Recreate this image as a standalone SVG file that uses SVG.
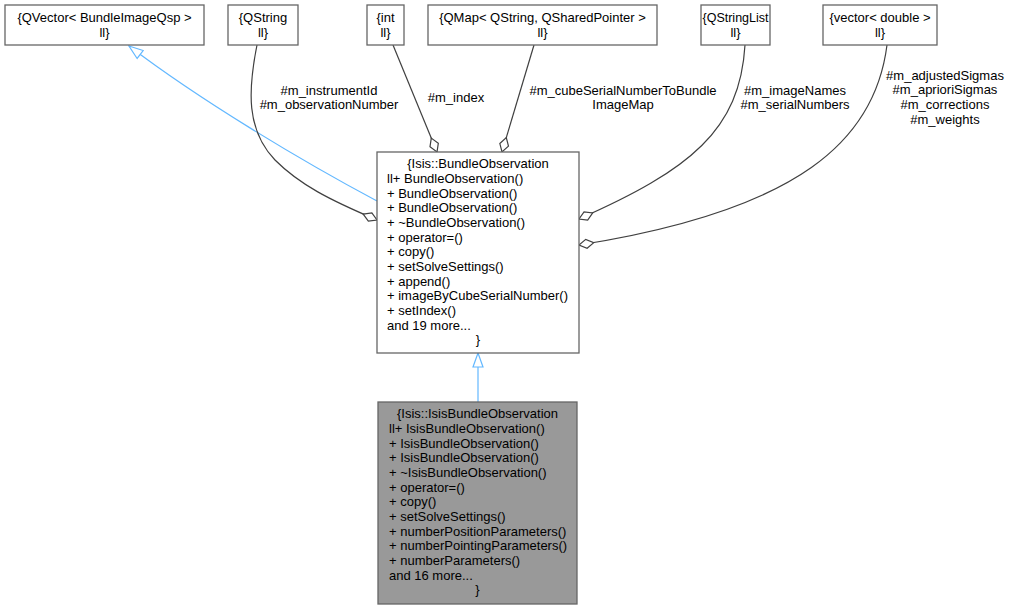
<svg xmlns="http://www.w3.org/2000/svg" width="1010" height="609" viewBox="0 0 1010 609">
<style>
text{font-family:"Liberation Sans",Arial,sans-serif;font-size:13px;fill:#000}
.c{text-anchor:middle}
.box{fill:#fff;stroke:#666;stroke-width:1.3}
.hl{fill:#999;stroke:#666;stroke-width:1.3}
.agg{fill:none;stroke:#404040;stroke-width:1.2;marker-end:url(#dia)}
.inh{fill:none;stroke:#63b8ff;stroke-width:1.2;marker-end:url(#tri)}
</style>
<defs>
<marker id="dia" markerUnits="userSpaceOnUse" markerWidth="18" markerHeight="12" refX="16" refY="6" orient="auto" viewBox="0 0 18 12">
<path d="M1,6 L8.5,1.5 L16,6 L8.5,10.5 Z" fill="#fff" stroke="#404040" stroke-width="1.2"/>
</marker>
<marker id="tri" markerUnits="userSpaceOnUse" markerWidth="16" markerHeight="12" refX="15" refY="6" orient="auto" viewBox="0 0 16 12">
<path d="M1,1 L15,6 L1,11 Z" fill="#fff" stroke="#63b8ff" stroke-width="1.2"/>
</marker>
</defs>
<g id="connectors">
<path class="inh" d="M377,201 C300,160 200,100 129,46"/>
<path class="inh" d="M478,402 L478,353"/>
<path class="agg" d="M257,45 C248,90 246,130 275,160 C300,185 330,200 377,220"/>
<path class="agg" d="M393,45 L437,152"/>
<path class="agg" d="M534,45 L502,152"/>
<path class="agg" d="M745,45 C740,130 690,170 579,219"/>
<path class="agg" d="M887,45 C875,140 800,210 579,245"/>
<text class="c" x="329" y="94.5">#m_instrumentId</text>
<text class="c" x="329" y="109">#m_observationNumber</text>
<text class="c" x="456" y="102">#m_index</text>
<text class="c" x="623" y="94.5">#m_cubeSerialNumberToBundle</text>
<text class="c" x="623" y="109">ImageMap</text>
<text class="c" x="795" y="94.5">#m_imageNames</text>
<text class="c" x="795" y="109">#m_serialNumbers</text>
<text class="c" x="945" y="79.7">#m_adjustedSigmas</text>
<text class="c" x="945" y="94.3">#m_aprioriSigmas</text>
<text class="c" x="945" y="109">#m_corrections</text>
<text class="c" x="945" y="123.7">#m_weights</text>
</g>
<g id="node-qvector">
<rect class="box" x="5" y="5" width="199" height="40"/>
<text class="c" x="104.5" y="22">{QVector&lt; BundleImageQsp &gt;</text>
<text class="c" x="104.5" y="36.7">ll}</text>
</g>
<g id="node-qstring">
<rect class="box" x="228" y="5" width="70" height="40"/>
<text class="c" x="263" y="22">{QString</text>
<text class="c" x="263" y="36.7">ll}</text>
</g>
<g id="node-int">
<rect class="box" x="367" y="5" width="37" height="40"/>
<text class="c" x="385.5" y="22">{int</text>
<text class="c" x="385.5" y="36.7">ll}</text>
</g>
<g id="node-qmap">
<rect class="box" x="428" y="5" width="229" height="40"/>
<text class="c" x="542.5" y="22">{QMap&lt; QString, QSharedPointer &gt;</text>
<text class="c" x="542.5" y="36.7">ll}</text>
</g>
<g id="node-qstringlist">
<rect class="box" x="701" y="5" width="69" height="40"/>
<text class="c" x="735.5" y="22" style="font-size:12.5px">{QStringList</text>
<text class="c" x="735.5" y="36.7">ll}</text>
</g>
<g id="node-vector">
<rect class="box" x="823" y="5" width="114" height="40"/>
<text class="c" x="880" y="22">{vector&lt; double &gt;</text>
<text class="c" x="880" y="36.7">ll}</text>
</g>
<g id="node-bundleobservation">
<rect class="box" x="377" y="152" width="202" height="201"/>
<text class="c" x="478" y="168.3">{Isis::BundleObservation</text>
<text x="387" y="183">ll+ BundleObservation()</text>
<text x="387" y="197.6">+ BundleObservation()</text>
<text x="387" y="212.3">+ BundleObservation()</text>
<text x="387" y="227">+ ~BundleObservation()</text>
<text x="387" y="241.6">+ operator=()</text>
<text x="387" y="256.3">+ copy()</text>
<text x="387" y="271">+ setSolveSettings()</text>
<text x="387" y="285.6">+ append()</text>
<text x="387" y="300.3">+ imageByCubeSerialNumber()</text>
<text x="387" y="315">+ setIndex()</text>
<text x="387" y="329.6">and 19 more...</text>
<text class="c" x="478" y="344.3">}</text>
</g>
<g id="node-isisbundleobservation">
<rect class="hl" x="378" y="402" width="199" height="202"/>
<text class="c" x="477.5" y="418.3">{Isis::IsisBundleObservation</text>
<text x="389" y="433">ll+ IsisBundleObservation()</text>
<text x="389" y="447.6">+ IsisBundleObservation()</text>
<text x="389" y="462.3">+ IsisBundleObservation()</text>
<text x="389" y="477">+ ~IsisBundleObservation()</text>
<text x="389" y="491.6">+ operator=()</text>
<text x="389" y="506.3">+ copy()</text>
<text x="389" y="521">+ setSolveSettings()</text>
<text x="389" y="535.6">+ numberPositionParameters()</text>
<text x="389" y="550.3">+ numberPointingParameters()</text>
<text x="389" y="565">+ numberParameters()</text>
<text x="389" y="579.6">and 16 more...</text>
<text class="c" x="477.5" y="594.3">}</text>
</g>
</svg>
